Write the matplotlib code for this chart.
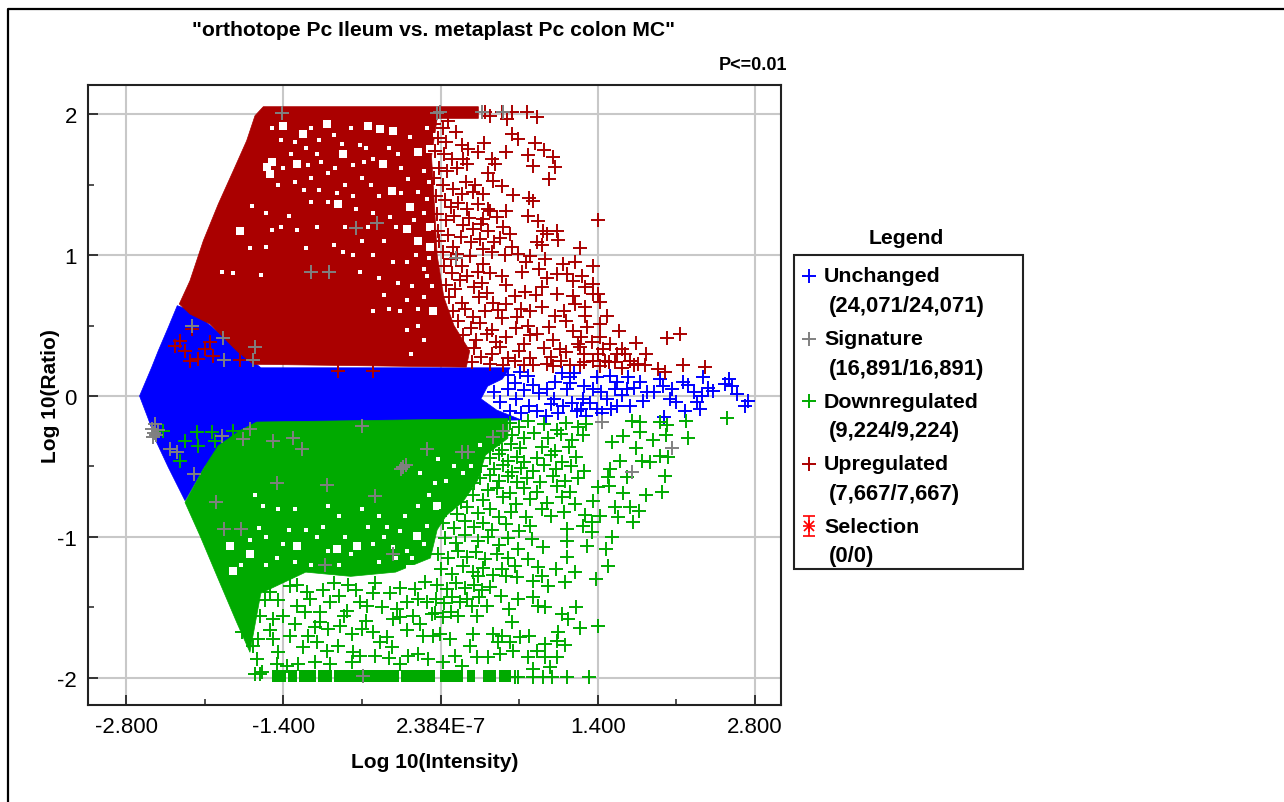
import numpy as np
import matplotlib
matplotlib.use("Agg")
import matplotlib.pyplot as plt

plt.rcParams["font.family"] = ["Liberation Sans", "DejaVu Sans"]

# values, x = log10 intensity, y = log10 ratio
x_ticks = [-2.8, -1.4, 0.0, 1.4, 2.8]
x_labels = ["-2.800", "-1.400", "2.384E-7", "1.400", "2.800"]
y_ticks = [2, 1, 0, -1, -2]
y_labels = ["2", "1", "0", "-1", "-2"]

# outlines of the regions where the markers merge into a solid colour
blue_dense = [(-2.68, 0.0), (-2.572, 0.203), (-2.513, 0.321), (-2.424, 0.487), (-2.344, 0.641),
              (-2.2, 0.6), (-1.6, 0.2), (0.62, 0.2), (0.55, 0.12), (0.42, 0.07), (0.36, -0.02), (0.5, -0.1),
              (0.72, -0.17), (-1.6, -0.2), (-2.1, -0.5), (-2.275, -0.743),
              (-2.424, -0.506), (-2.528, -0.329), (-2.602, -0.163)]
red_dense = [(-1.578, 2.053), (-1.652, 1.989), (-1.726, 1.812), (-1.845, 1.599), (-1.979, 1.362),
             (-2.112, 1.102), (-2.231, 0.818), (-2.326, 0.653), (-2.231, 0.582), (-2.053, 0.511),
             (-1.934, 0.416), (-1.815, 0.321), (-1.667, 0.225), (0.23, 0.205), (0.26, 0.32),
             (0.12, 0.5), (0.03, 0.7), (-0.03, 1.0), (-0.05, 1.3), (-0.08, 1.7), (-0.03, 1.97),
             (0.337, 1.97), (0.337, 2.053)]
green_dense = [(-2.275, -0.755), (-2.112, -0.518), (-1.979, -0.353), (-1.786, -0.246), (-1.637, -0.185),
               (0.6, -0.16), (0.6, -0.3), (0.4, -0.42), (0.33, -0.6), (0.2, -0.75), (0.05, -0.85),
               (-0.03, -0.95), (-0.09, -1.15), (-0.4, -1.25), (-0.8, -1.28), (-1.2, -1.25), (-1.6, -1.40),
               (-1.697, -1.819), (-1.815, -1.606), (-1.979, -1.299), (-2.142, -0.991)]
red_bar = [(-1.578, 0.337)]
green_bar = [(-1.50, -1.38), (-1.36, -1.28), (-1.26, -1.11), (-1.09, -0.97), (-0.95, -0.37),
             (-0.35, -0.05), (-0.005, 0.203), (0.233, 0.307), (0.381, 0.491), (0.521, 0.627)]

# holes left inside the solid regions
red_gaps_big = [(-1.40, 1.918), (-1.222, 1.859), (-1.548, 1.623), (-1.504, 1.658), (-1.519, 1.575),
                (-0.643, 1.918), (-0.539, 1.895), (-0.421, 1.883), (-0.198, 1.729), (-0.094, 1.753),
                (-0.436, 1.457), (-0.910, 1.362), (-1.786, 1.173), (-0.302, 1.185), (-0.198, 1.102),
                (-0.094, 1.197), (-0.065, 0.605), (-0.866, 1.717), (-0.272, 1.339), (-0.094, 1.055),
                (-0.51, 1.646), (-1.281, 1.646), (-1.014, 1.93)]
red_gaps_small = [(-1.5, 1.9), (-1.3, 1.8), (-1.15, 1.9), (-0.95, 1.85), (-0.8, 1.9), (-1.1, 1.72),
                  (-0.72, 1.78), (-0.6, 1.68), (-0.35, 1.62), (-0.15, 1.6), (-1.45, 1.5), (-1.3, 1.52),
                  (-1.15, 1.55), (-1.0, 1.58), (-0.85, 1.5), (-0.7, 1.55), (-0.55, 1.42), (-0.2, 1.45),
                  (-1.68, 1.35), (-1.55, 1.3), (-1.35, 1.28), (-1.15, 1.38), (-1.0, 1.38), (-0.75, 1.33),
                  (-0.6, 1.3), (-0.45, 1.27), (-0.12, 1.4), (-1.7, 1.05), (-1.55, 1.06), (-1.42, 1.2),
                  (-1.28, 1.18), (-1.1, 1.2), (-0.95, 1.07), (-0.87, 1.02), (-0.7, 1.1), (-0.5, 1.1),
                  (-0.42, 0.95), (-0.3, 0.95), (-0.15, 0.9), (-1.95, 0.88), (-1.85, 0.87), (-1.6, 0.86),
                  (-0.72, 0.88), (-0.55, 0.84), (-0.38, 0.8), (-0.25, 0.78), (-0.12, 0.85), (-0.6, 0.6),
                  (-0.36, 0.6), (-0.2, 0.5), (-0.3, 0.47), (-0.15, 0.4), (-0.26, 0.3),
                  (-1.42, 1.82), (-1.33, 1.72), (-1.2, 1.76), (-1.08, 1.82), (-0.88, 1.79), (-0.78, 1.64),
                  (-0.66, 1.76), (-0.46, 1.76), (-0.38, 1.72), (-0.27, 1.84), (-0.12, 1.9), (-0.05, 1.85),
                  (-1.4, 1.62), (-1.18, 1.64), (-1.06, 1.66), (-0.94, 1.62), (-0.68, 1.66), (-0.29, 1.54),
                  (-0.1, 1.52), (-1.22, 1.46), (-1.08, 1.46), (-0.92, 1.44), (-0.78, 1.42), (-0.62, 1.5),
                  (-0.35, 1.44), (-0.24, 1.25), (-0.15, 1.3), (-0.4, 1.2), (-0.65, 1.2), (-0.85, 1.2),
                  (-1.5, 1.18), (-1.2, 1.05), (-0.78, 1.0), (-0.6, 1.0), (-0.22, 1.0), (-0.1, 0.98),
                  (-0.5, 0.72), (-0.3, 0.68), (-0.15, 0.7), (-0.08, 0.78), (-0.46, 0.62), (-0.2, 0.62)]
green_gaps_big = [(-0.094, -1.204), (-0.272, -1.228), (-1.281, -1.062), (-1.875, -1.062), (-1.845, -1.24),
                  (-1.697, -1.12), (-0.925, -1.086), (-0.747, -1.062), (-0.213, -0.991), (-0.035, -0.778)]
green_gaps_small = [(-1.62, -0.94), (-1.55, -1.0), (-1.4, -1.05), (-1.2, -0.95), (-1.1, -1.0), (-1.0, -1.1),
                    (-0.85, -1.0), (-0.6, -1.05), (-0.5, -1.0), (-0.42, -1.07), (-0.3, -1.1), (-0.15, -1.05),
                    (-1.65, -0.7), (-1.58, -0.78), (-1.45, -0.8), (-1.3, -0.8), (-1.0, -0.78), (-0.9, -0.85),
                    (-0.7, -0.8), (-0.55, -0.85), (-0.32, -0.85), (-0.2, -0.78), (-0.1, -0.7), (-0.18, -0.55),
                    (-1.3, -1.18), (-1.55, -1.2), (-1.15, -1.2), (-0.9, -1.2), (-0.55, -1.18), (-0.4, -1.15),
                    (-1.78, -1.2), (-1.7, -1.02), (-1.46, -1.15), (-1.35, -0.95), (-1.05, -0.93), (-0.8, -1.12),
                    (-0.65, -0.93), (-0.48, -0.93), (-0.36, -0.96), (-0.25, -1.15), (-0.12, -0.92), (-0.05, -0.62),
                    (0.05, -0.6), (0.12, -0.5), (0.2, -0.55), (-0.02, -0.45), (0.27, -0.5), (0.35, -0.35)]

unchanged = [(2.74, -0.033), (2.71, -0.069), (2.637, 0.014), (2.568, 0.121), (2.592, 0.073), (2.533, 0.085),
             (2.429, 0.038), (2.34, 0.132), (2.325, 0.002), (2.28, -0.045), (2.31, -0.092), (2.177, -0.104),
             (1.992, -0.151), (2.043, -0.021), (2.162, 0.097), (1.954, 0.121), (1.984, 0.073), (1.835, 0.026),
             (1.806, -0.033), (1.776, 0.097), (1.672, 0.132), (1.657, 0.05), (1.687, -0.069), (1.568, -0.069),
             (1.509, 0.144), (1.39, 0.132), (1.36, 0.05), (1.479, -0.021), (1.39, -0.092), (1.271, -0.021),
             (1.212, -0.104), (1.153, 0.132), (1.123, 0.05), (1.093, -0.069), (2.06, 0.05),
             (2.1, -0.04), (2.2, 0.08), (2.38, 0.06), (2.26, 0.03), (1.57, 0.1), (1.62, 0.01), (1.72, 0.06), (1.9, 0.03),
             (0.71, 0.17), (0.78, 0.14), (0.66, 0.09), (0.6, 0.05), (0.48, 0.03), (0.53, -0.04), (0.67, -0.02),
             (0.74, 0.04), (0.82, 0.08), (0.88, 0.02), (0.79, -0.07), (0.86, -0.11), (0.94, -0.14), (0.98, -0.06),
             (1.05, -0.12), (0.95, 0.05), (1.02, 0.1), (1.08, 0.16), (1.15, 0.09), (1.19, 0.16), (1.01, -0.02),
             (1.17, -0.05), (1.28, 0.07), (1.25, -0.09), (1.33, -0.05), (1.43, 0.03), (1.44, -0.12), (1.3, -0.14),
             (1.52, -0.09), (1.55, 0.05), (0.6, 0.15), (0.44, 0.14), (0.39, 0.11), (0.62, -0.11), (0.72, -0.12)]

upregulated = [(0.767, 2.013), (0.856, 1.977), (0.633, 1.859), (0.693, 1.824), (0.841, 1.793), (0.921, 1.746),
               (0.998, 1.694), (1.019, 1.623), (0.969, 1.54), (0.826, 1.634), (0.776, 1.71), (0.583, 1.731),
               (0.39, 1.793), (0.337, 1.729), (0.248, 1.753), (0.203, 1.682), (0.233, 1.646), (0.455, 1.682),
               (0.485, 1.646), (0.426, 1.58), (0.47, 1.528), (0.544, 1.492), (0.648, 1.429), (0.788, 1.403),
               (0.826, 1.381), (0.292, 1.445), (0.188, 1.433), (0.426, 1.327), (0.583, 1.315), (0.776, 1.275),
               (0.871, 1.244), (1.399, 1.251), (1.242, 1.048), (1.034, 1.173), (0.915, 1.173), (1.049, 1.107),
               (0.95, 1.15), (0.86, 1.09), (0.9, 1.07), (1.36, 0.925), (1.093, 0.936), (1.197, 0.948),
               (0.93, 0.972), (0.797, 0.996), (0.633, 1.055), (0.693, 1.008), (1.034, 0.866), (1.123, 0.866),
               (1.256, 0.854), (1.182, 0.818), (1.286, 0.771), (1.36, 0.795), (1.36, 0.724), (1.405, 0.724),
               (1.42, 0.664), (1.182, 0.712), (1.034, 0.724), (1.286, 0.629), (1.286, 0.57), (1.479, 0.57),
               (1.42, 0.511), (1.301, 0.487), (1.592, 0.463), (2.013, 0.411), (2.132, 0.44), (1.737, 0.374),
               (1.613, 0.333), (1.829, 0.298), (1.509, 0.369), (1.42, 0.416), (1.346, 0.38), (2.162, 0.222),
               (2.354, 0.208), (1.939, 0.191), (1.998, 0.168), (1.761, 0.227), (1.687, 0.25), (1.568, 0.298),
               (1.464, 0.25), (1.36, 0.25), (1.242, 0.345), (0.352, 1.114), (0.292, 1.185), (0.619, 1.15),
               (0.559, 1.197), (0.441, 1.315), (0.381, 1.256), (0.396, 2.013), (0.441, 1.989), (0.589, 1.965),
               (0.633, 2.013), (0.544, 2.013), (-2.216, 0.475), (-2.32, 0.392), (-2.364, 0.357),
               (-2.275, 0.321), (-2.053, 0.38), (-2.097, 0.333), (-2.023, 0.286), (-2.231, 0.25),
               (-2.157, 0.262), (-1.786, 0.258), (-0.91, 0.18), (-0.599, 0.18)]

# the crowded part right of the solid red block
up_crowd = [(-0.06, 1.93), (0.02, 1.9), (0.07, 1.95), (0.14, 1.87), (-0.02, 1.83), (0.05, 1.8), (0.19, 1.78),
            (-0.05, 1.74), (0.03, 1.72), (0.1, 1.68), (-0.01, 1.62), (0.06, 1.6), (0.15, 1.62), (-0.06, 1.55),
            (0.02, 1.5), (0.11, 1.47), (0.23, 1.52), (0.31, 1.5), (0.38, 1.43), (-0.04, 1.42), (0.04, 1.39),
            (0.09, 1.34), (0.16, 1.37), (0.24, 1.33), (0.33, 1.36), (-0.03, 1.29), (0.05, 1.25), (0.12, 1.28),
            (0.25, 1.26), (0.36, 1.22), (0.5, 1.27), (-0.02, 1.17), (0.07, 1.14), (0.2, 1.21), (0.42, 1.17),
            (0.48, 1.09), (-0.01, 1.1), (0.11, 1.06), (0.18, 1.13), (0.27, 1.09), (0.46, 1.02), (0.53, 1.12),
            (0.02, 1.02), (0.09, 0.97), (0.15, 1.01), (0.26, 0.99), (0.38, 1.04), (0.57, 1.0), (0.03, 0.92),
            (0.1, 0.87), (0.19, 0.92), (0.24, 0.85), (0.33, 0.88), (0.38, 0.94), (0.44, 0.87), (0.55, 0.85),
            (0.73, 0.88), (0.76, 0.95), (0.88, 0.9), (0.95, 0.84), (0.05, 0.79), (0.13, 0.76), (0.17, 0.82),
            (0.3, 0.77), (0.37, 0.8), (0.58, 0.79), (0.75, 0.74), (0.9, 0.77), (0.08, 0.7), (0.19, 0.66),
            (0.34, 0.7), (0.41, 0.73), (0.47, 0.66), (0.66, 0.71), (0.72, 0.62), (0.85, 0.72), (0.11, 0.6),
            (0.22, 0.62), (0.29, 0.56), (0.4, 0.6), (0.51, 0.61), (0.58, 0.65), (0.68, 0.56), (0.8, 0.6),
            (0.9, 0.63), (1.1, 0.6), (1.2, 0.65), (0.16, 0.53), (0.27, 0.48), (0.35, 0.52), (0.46, 0.47),
            (0.55, 0.55), (0.67, 0.48), (0.78, 0.5), (0.86, 0.44), (0.97, 0.49), (1.02, 0.57), (1.12, 0.53),
            (1.18, 0.46), (1.25, 0.42), (0.2, 0.43), (0.32, 0.4), (0.41, 0.44), (0.49, 0.38), (0.58, 0.42),
            (0.74, 0.37), (0.8, 0.43), (1.0, 0.4), (1.06, 0.33), (1.22, 0.37), (1.28, 0.3), (1.45, 0.33),
            (0.3, 0.34), (0.36, 0.28), (0.46, 0.3), (0.53, 0.35), (0.6, 0.27), (0.7, 0.32), (0.8, 0.27),
            (0.92, 0.34), (0.98, 0.28), (1.07, 0.25), (1.12, 0.31), (1.28, 0.24), (1.4, 0.3), (1.5, 0.24),
            (1.64, 0.3), (1.72, 0.22), (0.28, 0.24), (0.44, 0.23), (0.56, 0.22), (0.66, 0.25), (0.74, 0.22),
            (0.82, 0.22), (0.95, 0.23), (1.0, 0.21), (1.15, 0.22), (1.24, 0.22), (1.42, 0.21), (1.55, 0.24),
            (1.62, 0.2), (1.82, 0.22)]

downregulated = [(2.547, -0.158), (2.19, -0.18), (2.2, -0.3), (2.013, -0.206), (2.005, -0.277), (1.954, -0.187),
                 (1.895, -0.31), (1.954, -0.424), (2.028, -0.435), (1.999, -0.566), (1.975, -0.684), (1.83, -0.703),
                 (1.865, -0.471), (1.79, -0.459), (1.737, -0.371), (1.776, -0.258), (1.776, -0.182), (1.702, -0.175),
                 (1.627, -0.281), (1.524, -0.329), (1.598, -0.459), (1.509, -0.518), (1.657, -0.577), (1.622, -0.69),
                 (1.494, -0.577), (1.5, -0.636), (1.405, -0.648), (1.36, -0.743), (1.553, -0.79), (1.687, -0.79),
                 (1.767, -0.819), (1.717, -0.897), (1.577, -0.861), (1.42, -0.85), (1.286, -0.842), (1.346, -0.897),
                 (1.346, -0.968), (1.271, -0.92), (1.524, -1.003), (1.473, -1.086), (1.494, -1.204), (1.384, -1.299),
                 (1.301, -1.062), (1.123, -0.944), (1.129, -1.027), (0.915, -1.074), (0.812, -1.015), (0.693, -1.086),
                 (1.129, -1.145), (1.028, -1.228), (1.197, -1.252), (1.108, -1.322), (0.826, -1.31), (0.9, -1.275),
                 (0.663, -1.204), (0.782, -1.157), (0.871, -1.216), (0.684, -1.287), (0.583, -1.275), (0.96, -1.35),
                 (0.693, -1.44), (0.826, -1.429), (0.871, -1.488), (0.93, -1.5), (0.61, -1.511), (0.634, -1.606),
                 (0.539, -1.417), (0.411, -1.488), (0.441, -1.358), (0.337, -1.275), (0.277, -1.488), (0.322, -1.559),
                 (1.079, -1.547), (1.206, -1.5), (1.138, -1.583), (1.399, -1.63), (1.242, -1.649), (1.049, -1.677),
                 (1.034, -1.736), (1.108, -1.767), (0.93, -1.76), (0.856, -1.807), (0.791, -1.701), (0.708, -1.713),
                 (0.619, -1.748), (0.515, -1.748), (0.648, -1.807), (0.53, -1.83), (0.426, -1.855), (0.322, -1.855),
                 (0.262, -1.772), (0.782, -1.855), (1.034, -1.855), (0.93, -1.855), (0.975, -1.926), (0.826, -1.938),
                 (1.325, -1.992), (1.129, -1.997), (0.99, -1.997), (0.915, -1.997), (0.826, -1.997), (0.693, -1.997),
                 (0.663, -1.997), (0.545, -1.7), (0.47, -1.689), (0.292, -1.689), (0.085, -1.725), (-0.004, -1.689),
                 (0.129, -1.843), (0.025, -1.89), (0.188, -1.914),
                 (-1.771, -1.677), (-1.667, -1.772), (-1.622, -1.725), (-1.637, -1.867), (-1.593, -1.961),
                 (-1.489, -1.725), (-1.444, -1.819), (-1.34, -1.7), (-1.281, -1.488), (-1.207, -1.535),
                 (-1.074, -1.535), (-1.074, -1.606), (-1.0, -1.653), (-1.222, -1.784), (-1.103, -1.748),
                 (-1.014, -1.807), (-0.91, -1.772), (-0.777, -1.819), (-0.717, -1.843), (-0.584, -1.843),
                 (-0.539, -1.748), (-0.436, -1.784), (-0.287, -1.843), (-0.198, -1.831), (-0.109, -1.867),
                 (-1.37, -1.914), (-1.266, -1.902), (-1.118, -1.89), (-0.792, -1.89), (-0.361, -1.902),
                 (-0.895, -1.63), (-0.792, -1.689), (-0.703, -1.653), (-0.6, -1.677), (-0.48, -1.713),
                 (-0.361, -1.571), (-0.243, -1.559), (-0.154, -1.7), (-0.065, -1.7), (-0.124, -1.464),
                 (-0.228, -1.37), (-0.391, -1.512), (-0.658, -1.488), (-0.836, -1.523), (-0.985, -1.464),
                 (-1.192, -1.393), (-1.34, -1.346), (-1.489, -1.583), (-1.608, -1.559), (-1.519, -1.393),
                 (-1.697, -1.464), (-1.652, -1.973), (-1.608, -1.973), (-0.45, -1.4), (-0.75, -1.38), (-0.95, -1.33),
                 (-1.45, -1.45), (-0.58, -1.33), (-0.3, -1.46),
                 (-1.4, -1.56), (-1.3, -1.62), (-1.16, -1.44), (-1.12, -1.64), (-0.9, -1.42), (-0.86, -1.56),
                 (-0.72, -1.46), (-0.66, -1.6), (-0.52, -1.5), (-0.42, -1.58), (-0.3, -1.66), (-0.2, -1.44),
                 (-0.18, -1.62), (-0.08, -1.55), (-0.6, -1.4), (-0.36, -1.36), (-0.14, -1.32), (-0.82, -1.34),
                 (-1.05, -1.38), (-1.28, -1.34), (-1.56, -1.45), (-1.52, -1.66), (-0.46, -1.86), (-0.98, -1.9),
                 (-1.18, -1.7), (-1.46, -1.9),
                 (-2.275, -0.317), (-2.171, -0.258), (-2.157, -0.353), (-2.038, -0.258), (-2.008, -0.317),
                 (-1.845, -0.246), (-2.32, -0.459), (-2.468, -0.246)]

# the crowded part right of the solid green block
down_crowd = [(0.62, -0.19), (0.7, -0.22), (0.78, -0.18), (0.92, -0.2), (1.04, -0.24), (1.12, -0.19), (1.22, -0.22),
              (1.3, -0.2), (0.64, -0.28), (0.74, -0.3), (0.83, -0.26), (0.96, -0.3), (1.07, -0.27), (1.17, -0.31),
              (1.27, -0.28), (0.47, -0.35), (0.55, -0.38), (0.63, -0.34), (0.71, -0.37), (0.9, -0.36), (1.02, -0.39),
              (1.14, -0.36), (0.44, -0.44), (0.52, -0.41), (0.6, -0.46), (0.68, -0.43), (0.74, -0.47), (0.86, -0.44),
              (0.98, -0.42), (1.08, -0.47), (1.21, -0.43), (0.36, -0.5), (0.48, -0.52), (0.56, -0.49), (0.64, -0.54),
              (0.72, -0.51), (0.82, -0.53), (0.92, -0.49), (1.03, -0.52), (1.16, -0.5), (1.28, -0.53), (0.35, -0.58),
              (0.44, -0.56), (0.52, -0.6), (0.6, -0.57), (0.68, -0.61), (0.77, -0.58), (0.89, -0.61), (1.0, -0.57),
              (1.11, -0.6), (1.22, -0.58), (0.12, -0.63), (0.22, -0.66), (0.3, -0.62), (0.42, -0.67), (0.5, -0.65),
              (0.62, -0.69), (0.74, -0.65), (0.86, -0.68), (1.04, -0.64), (1.15, -0.68), (0.1, -0.72), (0.18, -0.75),
              (0.29, -0.7), (0.38, -0.74), (0.56, -0.72), (0.67, -0.77), (0.8, -0.73), (0.95, -0.76), (1.08, -0.72),
              (1.2, -0.77), (0.05, -0.81), (0.15, -0.84), (0.24, -0.79), (0.33, -0.83), (0.44, -0.8), (0.52, -0.86),
              (0.63, -0.82), (0.76, -0.86), (0.9, -0.8), (0.98, -0.85), (1.1, -0.82), (0.02, -0.9), (0.12, -0.94),
              (0.22, -0.89), (0.3, -0.93), (0.38, -0.9), (0.46, -0.95), (0.58, -0.91), (0.7, -0.96), (0.8, -0.92),
              (0.04, -1.01), (0.14, -1.04), (0.22, -0.99), (0.33, -1.03), (0.42, -1.0), (0.52, -1.06), (0.6, -1.01),
              (-0.02, -1.12), (0.07, -1.15), (0.16, -1.1), (0.24, -1.14), (0.32, -1.11), (0.4, -1.16), (0.5, -1.12),
              (0.6, -1.15), (0.0, -1.23), (0.1, -1.26), (0.2, -1.21), (0.29, -1.25), (0.38, -1.22), (0.47, -1.27),
              (0.55, -1.23), (-0.03, -1.34), (0.06, -1.37), (0.14, -1.33), (0.22, -1.36), (0.3, -1.34), (0.37, -1.38),
              (-0.04, -1.44), (0.03, -1.47), (0.1, -1.43), (0.17, -1.46), (0.24, -1.44), (0.34, -1.43), (-0.05, -1.54),
              (0.02, -1.57), (0.09, -1.53), (0.16, -1.56)]

signature = [(-2.572, -0.234), (-2.55, -0.26), (-2.54, -0.2), (-2.53, -0.28), (-2.56, -0.29), (-2.52, -0.24),
             (-2.409, -0.376), (-2.344, -0.4), (-2.195, -0.554), (-1.949, -0.282), (-1.756, -0.305),
             (-1.697, -0.234), (-1.495, -0.322), (-1.317, -0.3), (-1.237, -0.376), (-0.703, -0.21),
             (-0.118, -0.376), (-0.332, -0.506), (-0.35, -0.52), (-0.31, -0.49), (-1.459, -0.617),
             (-1.014, -0.629), (-0.584, -0.707), (-2.002, -0.755), (-1.925, -0.944), (-1.78, -0.944),
             (-0.421, -1.12), (-1.029, -1.2), (-0.694, -1.985), (2.058, -0.371), (1.702, -0.542),
             (1.435, -0.187), (0.559, -0.246), (0.47, -0.293), (0.248, -0.4), (0.188, -0.4),
             (-1.409, 2.006), (-0.035, 2.006), (-0.756, 1.19), (-0.569, 1.225), (-1.157, 0.882),
             (-0.993, 0.882), (-2.21, 0.494), (-1.94, 0.411), (-1.652, 0.35), (-1.925, 0.258),
             (-1.667, 0.258), (-0.004, 2.013), (0.366, 2.013), (0.559, 2.013), (0.138, 0.977)]

legend_names = ["Unchanged", "Signature", "Downregulated", "Upregulated", "Selection"]
legend_counts = ["(24,071/24,071)", "(16,891/16,891)", "(9,224/9,224)", "(7,667/7,667)", "(0/0)"]
legend_colors = ["#0000ff", "#808080", "#00aa00", "#aa0000", "#ff0000"]

BLUE, GREY, GREEN, RED = "#0000ff", "#808080", "#00aa00", "#aa0000"
W, H = 1284, 803


def xy(points):
    return np.array(points)[:, 0], np.array(points)[:, 1]


fig = plt.figure(figsize=(W / 100, H / 100), dpi=100, facecolor="white")
ax = fig.add_axes([88 / W, 1 - 706 / H, (781 - 88) / W, (706 - 86) / H])
ax.set_xlim(-3.139, 3.032)
ax.set_ylim(-2.193, 2.207)
ax.set_axisbelow(True)
ax.grid(True, which="major", color="#c8c8c8", lw=1.5)

mark = dict(marker="+", linestyle="none", ms=9.5, mew=1.4)

# blue goes first, red and green sit on top of it
ax.fill(*xy(blue_dense), color=BLUE, lw=0.5, zorder=2)
ax.plot(*xy(unchanged), color=BLUE, zorder=2, **mark)
ax.fill(*xy(red_dense), color=RED, lw=0.5, zorder=3)
ax.fill(*xy(green_dense), color=GREEN, lw=0.5, zorder=3)
for left, right in green_bar:
    ax.fill_between([left, right], -2.028, -1.945, color=GREEN, lw=0, zorder=3)
for left, right in red_bar:
    ax.fill_between([left, right], 1.97, 2.053, color=RED, lw=0, zorder=3)

for gaps, size in [(red_gaps_big, 40), (red_gaps_small, 7), (green_gaps_big, 40), (green_gaps_small, 7)]:
    ax.scatter(*xy(gaps), s=size, marker="s", color="white", lw=0, zorder=3.5)

ax.plot(*xy(upregulated), color=RED, zorder=4, **mark)
ax.plot(*xy(up_crowd), color=RED, zorder=4, **mark)
ax.plot(*xy(downregulated), color=GREEN, zorder=4, **mark)
ax.plot(*xy(down_crowd), color=GREEN, zorder=4, **mark)
ax.plot(*xy(signature), color=GREY, zorder=5, **mark)

ax.set_xticks(x_ticks)
ax.set_xticklabels(x_labels)
ax.set_yticks(y_ticks)
ax.set_yticklabels(y_labels)
ax.set_xticks([-2.1, -0.7, 0.7, 2.1], minor=True)
ax.set_yticks([1.5, 0.5, -0.5, -1.5], minor=True)
ax.tick_params(which="major", direction="in", length=7, width=1.4, color="#333333", labelsize=16, pad=8)
ax.tick_params(which="minor", direction="in", length=4, width=1.2, color="#333333")
for spine in ax.spines.values():
    spine.set_linewidth(1.5)
    spine.set_color("#222222")
ax.set_xlabel("Log 10(Intensity)", fontsize=15, fontweight="bold", labelpad=11)
ax.set_ylabel("Log 10(Ratio)", fontsize=15, fontweight="bold", labelpad=-2)

# overlay in pixels for the title block, the outer rule and the legend
ov = fig.add_axes([0, 0, 1, 1], facecolor="none")
ov.set_xlim(0, W)
ov.set_ylim(H, 0)
ov.axis("off")
ov.plot([8, 8, W], [H, 10, 10], color="black", lw=1.6, clip_on=False)
ov.text(433, 31, '"orthotope Pc Ileum vs. metaplast Pc colon MC"', ha="center", va="center",
        fontsize=15.2, fontweight="bold")
ov.text(787, 65, "P<=0.01", ha="right", va="center", fontsize=13, fontweight="bold")
ov.text(906, 239, "Legend", ha="center", va="center", fontsize=15.2, fontweight="bold")
ov.add_patch(plt.Rectangle((794, 256), 229, 314, fc="white", ec="#222222", lw=1.5))
for i, (name, count, color) in enumerate(zip(legend_names, legend_counts, legend_colors)):
    row = 277 + i * 62.6
    ov.text(824, row, name, ha="left", va="center", fontsize=15.4, fontweight="bold")
    ov.text(829, row + 29.5, count, ha="left", va="center", fontsize=15.8, fontweight="bold")
    if name == "Selection":
        ov.errorbar([809], [row], yerr=[10], color=color, lw=1.2, capsize=4.5, capthick=1.2)
        ov.plot([809], [row], marker="+", ms=9, mew=1.2, color=color)
        ov.plot([809], [row], marker="x", ms=7, mew=1.2, color=color)
    else:
        ov.plot([809], [row], marker="+", ms=9.5, mew=1.4, color=color)

fig.savefig("out.png", dpi=100)
